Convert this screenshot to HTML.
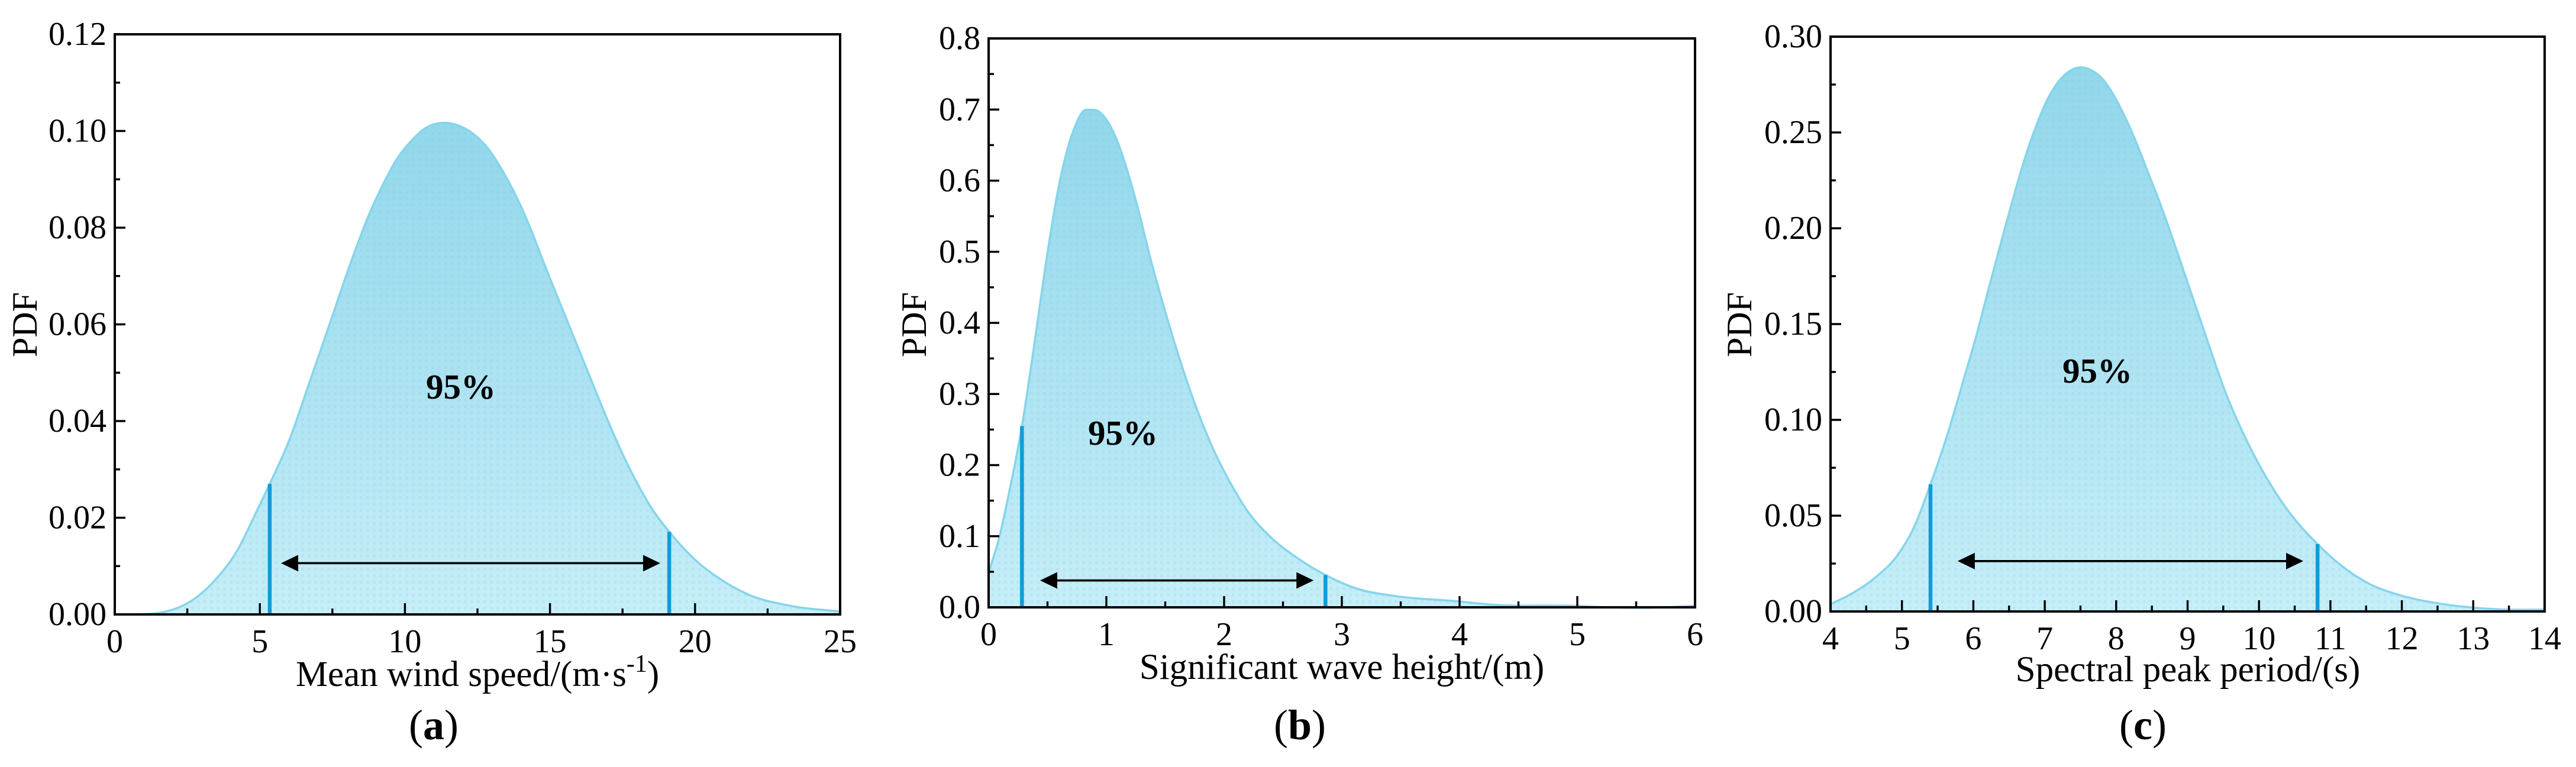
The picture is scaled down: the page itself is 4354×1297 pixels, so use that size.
<!DOCTYPE html>
<html lang="en">
<head>
<meta charset="utf-8">
<title>PDF of mean wind speed, significant wave height and spectral peak period</title>
<style>
html,body{margin:0;padding:0;background:#fff;}
svg{display:block;font-family:"Liberation Serif",serif;}
</style>
</head>
<body>
<svg id="fig" xmlns="http://www.w3.org/2000/svg" width="4354" height="1297" viewBox="0 0 4354 1297">
  <defs>
    <pattern id="dots" width="11" height="11" patternUnits="userSpaceOnUse">
      <rect x="3" y="3" width="5" height="5" fill="#7fcbe4" opacity="0.16"></rect>
    </pattern>
  </defs>
  <rect width="4354" height="1297" fill="#ffffff"></rect>
</svg>
<script>
// Panel (a): mean wind speed
const windX = [0.6,1.5,2.0,2.5,2.83,3.53,4.2,4.88,5.34,6.0,6.7,7.46,8.14,8.82,9.3,9.71,10.18,10.66,11.34,11.81,12.36,12.9,13.38,13.85,14.33,14.8,15.35,15.96,16.5,17,17.5,18,18.5,19.11,20,21,21.8,23.36,25];
const windPdf = [0,0.0003,0.0010,0.0023,0.0036,0.0076,0.0130,0.0212,0.027,0.0358,0.0478,0.0610,0.0729,0.0835,0.0896,0.0941,0.0977,0.1004,0.1017,0.1012,0.0994,0.0961,0.0916,0.0863,0.0798,0.0725,0.0643,0.0553,0.0473,0.0400,0.0332,0.0272,0.0220,0.0171,0.0113,0.0068,0.0042,0.0017,0.0006];
const windBoundX = [5.34,19.11];
const windBoundPdf = [0.027,0.0171];
const windArrowX = [5.73,18.8];
const windArrowPdf = [0.0106];
const windXTicks = ["0","5","10","15","20","25"];
const windYTicks = ["0.00","0.02","0.04","0.06","0.08","0.10","0.12"];

// Panel (b): significant wave height
const waveX = [0,0.088,0.18,0.283,0.39,0.483,0.576,0.669,0.738,0.799,0.864,0.934,1.003,1.087,1.18,1.273,1.366,1.505,1.644,1.784,1.923,2.06,2.2,2.387,2.62,2.861,3.13,3.456,3.994,4.245,5.0,5.27,5.73,6];
const wavePdf = [0.0488,0.097,0.166,0.255,0.372,0.48,0.575,0.644,0.678,0.697,0.6996,0.6975,0.685,0.658,0.613,0.558,0.496,0.413,0.338,0.272,0.217,0.173,0.135,0.1,0.0695,0.0454,0.0262,0.0158,0.0083,0.0041,0.002,0,0,0.002];
const waveBoundX = [0.283,2.861];
const waveBoundPdf = [0.255,0.0454];
const waveArrowX = [0.437,2.76];
const waveArrowPdf = [0.0378];
const waveXTicks = ["0","1","2","3","4","5","6"];
const waveYTicks = ["0.0","0.1","0.2","0.3","0.4","0.5","0.6","0.7","0.8"];

// Panel (c): spectral peak period
const periodX = [4,4.32,4.63,4.94,5.17,5.4,5.63,5.86,6.05,6.217,6.395,6.545,6.7,6.86,7.055,7.19,7.33,7.5,7.66,7.82,7.96,8.12,8.29,8.46,8.62,8.81,9.02,9.23,9.54,9.85,10.15,10.46,10.82,11.15,11.5,12,12.5,13,13.49,14];
const periodPdf = [0.0038,0.0098,0.0178,0.0295,0.044,0.0664,0.0915,0.1205,0.145,0.1689,0.1936,0.214,0.234,0.2515,0.2685,0.2764,0.2816,0.284,0.2823,0.2775,0.2698,0.2584,0.244,0.2278,0.2125,0.1925,0.1695,0.1465,0.1135,0.0875,0.067,0.05,0.0352,0.024,0.0153,0.0082,0.0043,0.002,0.001,0.001];
const periodBoundX = [5.4,10.82];
const periodBoundPdf = [0.0664,0.0352];
const periodArrowX = [5.78,10.62];
const periodArrowPdf = [0.0263];
const periodXTicks = ["4","5","6","7","8","9","10","11","12","13","14"];
const periodYTicks = ["0.00","0.05","0.10","0.15","0.20","0.25","0.30"];

const svg = document.getElementById('fig');
const NS = 'http://www.w3.org/2000/svg';

function make(parent, tag, attrs, txt) {
  const el = document.createElementNS(NS, tag);
  for (const k in attrs) el.setAttribute(k, attrs[k]);
  if (txt !== undefined) el.textContent = txt;
  parent.appendChild(el);
  return el;
}

// Non-uniform cubic Hermite through the points, tangents from neighbouring slopes
function smoothPath(pts) {
  const n = pts.length;
  const d = [];
  for (let i = 0; i < n - 1; i++) d.push((pts[i + 1][1] - pts[i][1]) / (pts[i + 1][0] - pts[i][0]));
  const m = pts.map((p, i) => {
    if (i === 0) return d[0];
    if (i === n - 1) return d[n - 2];
    const h0 = pts[i][0] - pts[i - 1][0], h1 = pts[i + 1][0] - pts[i][0];
    return (d[i - 1] * h1 + d[i] * h0) / (h0 + h1);
  });
  let out = '';
  for (let i = 0; i < n - 1; i++) {
    const h = pts[i + 1][0] - pts[i][0];
    out += ' C' + (pts[i][0] + h / 3).toFixed(1) + ' ' + (pts[i][1] + m[i] * h / 3).toFixed(1) + ' ' +
      (pts[i + 1][0] - h / 3).toFixed(1) + ' ' + (pts[i + 1][1] - m[i + 1] * h / 3).toFixed(1) + ' ' +
      pts[i + 1][0].toFixed(1) + ' ' + pts[i + 1][1].toFixed(1);
  }
  return out;
}

function drawPanel(cfg) {
  const g = make(svg, 'g', {});
  
  

  const xTickVals = cfg.xTicks.map(Number);
  const yTickVals = cfg.yTicks.map(Number);
  const xMin = xTickVals[0], xMax = xTickVals[xTickVals.length - 1];
  const yMin = yTickVals[0], yMax = yTickVals[yTickVals.length - 1];
  const sx = v => cfg.left + (v - xMin) / (xMax - xMin) * (cfg.right - cfg.left);
  const sy = v => cfg.bottom - (v - yMin) / (yMax - yMin) * (cfg.bottom - cfg.top);

  // area + curve
  const pts = cfg.x.map((v, i) => [sx(v), sy(cfg.y[i])]);
  const curveD = 'M' + pts[0][0].toFixed(1) + ' ' + pts[0][1].toFixed(1) + smoothPath(pts);
  const areaD = curveD + ' L' + pts[pts.length - 1][0].toFixed(1) + ' ' + cfg.bottom + ' L' + pts[0][0].toFixed(1) + ' ' + cfg.bottom + ' Z';

  const defs = svg.querySelector('defs');
  const grad = make(defs, 'linearGradient', {id: 'grad-' + cfg.id, gradientUnits: 'userSpaceOnUse', x1: 0, x2: 0, y1: sy(Math.max.apply(null, cfg.y)), y2: cfg.bottom});
  make(grad, 'stop', {offset: '0', 'stop-color': '#92d7eb'});
  make(grad, 'stop', {offset: '1', 'stop-color': '#c6eef8'});

  const area = make(g, 'path', {d: areaD, fill: 'url(#grad-' + cfg.id + ')'});
  
  

  const dots = make(g, 'path', {d: areaD, fill: 'url(#dots)'});
  
  

  const curve = make(g, 'path', {d: curveD, fill: 'none', stroke: '#85d5eb', 'stroke-width': 3.6});
  
  

  // x ticks
  xTickVals.forEach((v, i) => {
    const t = make(g, 'line', {x1: sx(v), x2: sx(v), y1: cfg.bottom, y2: cfg.bottom - 19, stroke: '#000', 'stroke-width': 3.4});
    
    
    const lab = make(g, 'text', {x: sx(v), y: cfg.bottom + 64, 'text-anchor': 'middle', 'font-size': 56}, cfg.xTicks[i]);
    
    
    if (i < xTickVals.length - 1) {
      const mv = (v + xTickVals[i + 1]) / 2;
      const m = make(g, 'line', {x1: sx(mv), x2: sx(mv), y1: cfg.bottom, y2: cfg.bottom - 10, stroke: '#000', 'stroke-width': 3.4});
      
      
    }
  });

  // y ticks
  yTickVals.forEach((v, i) => {
    const t = make(g, 'line', {x1: cfg.left, x2: cfg.left + 18, y1: sy(v), y2: sy(v), stroke: '#000', 'stroke-width': 3.4});
    
    
    const lab = make(g, 'text', {x: cfg.left - 14, y: sy(v) + 18, 'text-anchor': 'end', 'font-size': 56}, cfg.yTicks[i]);
    
    
    if (i < yTickVals.length - 1) {
      const mv = (v + yTickVals[i + 1]) / 2;
      const m = make(g, 'line', {x1: cfg.left, x2: cfg.left + 9, y1: sy(mv), y2: sy(mv), stroke: '#000', 'stroke-width': 3.4});
      
      
    }
  });

  // interval bounds
  cfg.boundX.forEach((v, i) => {
    const b = make(g, 'line', {x1: sx(v), x2: sx(v), y1: sy(cfg.boundY[i]), y2: cfg.bottom, stroke: '#129bd9', 'stroke-width': 6.5});
    
    
  });

  // double arrow
  const ax0 = sx(cfg.arrowX[0]), ax1 = sx(cfg.arrowX[1]), ay = sy(cfg.arrowY[0]);
  const arrowLine = make(g, 'line', {x1: ax0 + 20, x2: ax1 - 20, y1: ay, y2: ay, stroke: '#000', 'stroke-width': 3.6});
  
  
  const hl = make(g, 'polygon', {points: ax0 + ',' + ay + ' ' + (ax0 + 29) + ',' + (ay - 14) + ' ' + (ax0 + 29) + ',' + (ay + 14), fill: '#000'});
  
  
  const hr = make(g, 'polygon', {points: ax1 + ',' + ay + ' ' + (ax1 - 29) + ',' + (ay - 14) + ' ' + (ax1 - 29) + ',' + (ay + 14), fill: '#000'});
  
  

  // frame
  const frame = make(g, 'rect', {x: cfg.left, y: cfg.top, width: cfg.right - cfg.left, height: cfg.bottom - cfg.top, fill: 'none', stroke: '#000', 'stroke-width': 4});
  
  

  // 95% label
  const pct = make(g, 'text', {x: cfg.pctX, y: cfg.pctY, 'text-anchor': 'middle', 'font-size': 59, 'font-weight': 'bold'}, '95%');
  
  

  // axis titles
  const xt = make(g, 'text', {x: cfg.xTitleX, y: cfg.xTitleY, 'text-anchor': 'middle', 'font-size': 61});
  
  
  make(xt, 'tspan', {}, cfg.xTitle);
  if (cfg.xTitleSup) {
    make(xt, 'tspan', {dy: -24, 'font-size': 42}, cfg.xTitleSup);
    make(xt, 'tspan', {dy: 24}, ')');
  }

  const yt = make(g, 'text', {transform: 'translate(' + cfg.yTitleX + ' 549) rotate(-90)', 'text-anchor': 'middle', 'font-size': 60}, 'PDF');
  
  

  // panel letter
  const pl = make(g, 'text', {x: cfg.letterX, y: 1250, 'text-anchor': 'middle', 'font-size': 72});
  
  
  make(pl, 'tspan', {}, '(');
  make(pl, 'tspan', {'font-weight': 'bold'}, cfg.id);
  make(pl, 'tspan', {}, ')');
}

drawPanel({id: 'a', left: 194, right: 1420, top: 58, bottom: 1039,
  x: windX, y: windPdf, boundX: windBoundX, boundY: windBoundPdf, arrowX: windArrowX, arrowY: windArrowPdf,
  xTicks: windXTicks, yTicks: windYTicks, pctX: 779, pctY: 674,
  xTitle: 'Mean wind speed/(m·s', xTitleSup: '-1', xTitleX: 807, xTitleY: 1160, yTitleX: 62, letterX: 733});
drawPanel({id: 'b', left: 1671, right: 2865, top: 65, bottom: 1027,
  x: waveX, y: wavePdf, boundX: waveBoundX, boundY: waveBoundPdf, arrowX: waveArrowX, arrowY: waveArrowPdf,
  xTicks: waveXTicks, yTicks: waveYTicks, pctX: 1898, pctY: 752,
  xTitle: 'Significant wave height/(m)', xTitleX: 2268, xTitleY: 1148, yTitleX: 1565, letterX: 2197});
drawPanel({id: 'c', left: 3094, right: 4301, top: 62, bottom: 1034,
  x: periodX, y: periodPdf, boundX: periodBoundX, boundY: periodBoundPdf, arrowX: periodArrowX, arrowY: periodArrowPdf,
  xTicks: periodXTicks, yTicks: periodYTicks, pctX: 3545, pctY: 647,
  xTitle: 'Spectral peak period/(s)', xTitleX: 3698, xTitleY: 1152, yTitleX: 2960, letterX: 3622});
</script>
</body>
</html>
